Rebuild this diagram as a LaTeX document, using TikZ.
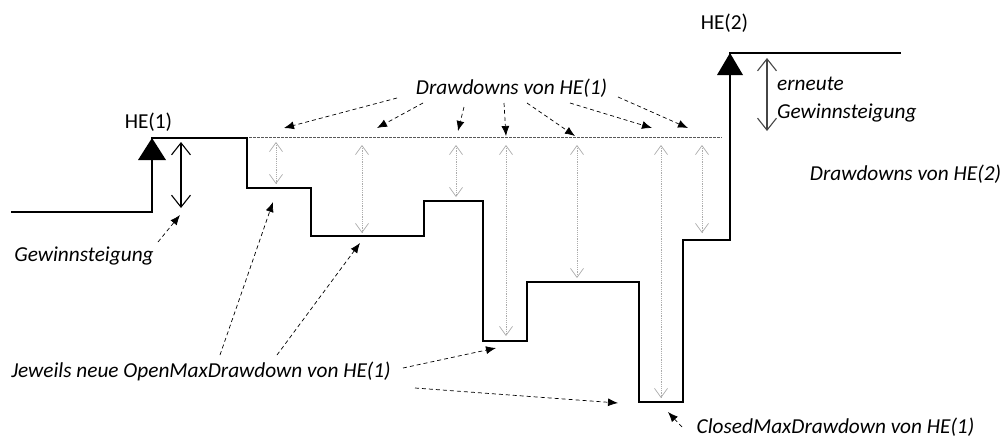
\documentclass[tikz,border=0pt]{standalone}
\usepackage{fontspec}
\setmainfont{Carlito}
\usetikzlibrary{arrows.meta}
\begin{document}
\begin{tikzpicture}[x=1pt,y=-1pt,
  curve/.style={line width=2.8pt, line join=miter},
  peak/.style={fill=black},
  level/.style={dash pattern=on 2.5pt off 1.5pt, line width=0.7pt, draw=gray!70!black},
  ddarrow/.style={draw=gray!65, dash pattern=on 1.2pt off 1pt, line width=0.7pt,
    {Straight Barb[length=9pt,width=13pt,line width=0.7pt]}-{Straight Barb[length=9pt,width=13pt,line width=0.7pt]}},
  gainarrow/.style={line width=1.1pt,
    {Straight Barb[length=12pt,width=19pt]}-{Straight Barb[length=12pt,width=19pt]}},
  note/.style={dash pattern=on 4pt off 3pt, line width=0.7pt, -{Latex[length=10pt,width=8pt]}},
  lbl/.style={font=\fontsize{21.3}{25}\selectfont\itshape, inner sep=0pt, anchor=base},
  plain/.style={font=\fontsize{21.3}{25}\selectfont, inner sep=0pt, anchor=base}]
\useasboundingbox (0,0) rectangle (1002,437);

% equity curve
\draw[curve] (11,212) -- (152,212) -- (152,138) -- (247,138) -- (247,188)
  -- (311,188) -- (311,236) -- (424,236) -- (424,201) -- (483,201) -- (483,341)
  -- (527,341) -- (527,282) -- (639,282) -- (639,402) -- (683,402) -- (683,240)
  -- (730,240) -- (730,53) -- (901,53);
\fill[peak] (138,160) -- (152,138) -- (166,160) -- cycle;
\fill[peak] (717,75) -- (730,53) -- (743,75) -- cycle;

% level of HE(1)
\draw[level] (249,137) -- (722,137);

% drawdown depths
\draw[ddarrow] (276,142) -- (276,184);
\draw[ddarrow] (362,145) -- (362,233);
\draw[ddarrow] (456,145) -- (456,197);
\draw[ddarrow] (506,145) -- (506,336);
\draw[ddarrow] (577,145) -- (577,278);
\draw[ddarrow] (661,145) -- (661,398);
\draw[ddarrow] (702,145) -- (702,233);

% gains
\draw[gainarrow] (181,142) -- (181,208);
\draw[gainarrow, draw=gray!55!black] (767,58) -- (767,131);

% labels
\node[plain] (he1) at (148.5,128.5) {HE(1)};
\node[plain] (he2) at (724.5,29) {HE(2)};
\node[lbl] (ddhe1) at (511.5,94) {Drawdowns von HE(1)};
\node[lbl, anchor=base west] (erneut) at (777,90) {erneute};
\node[lbl, anchor=base west] (gain2) at (777,118.5) {Gewinnsteigung};
\node[lbl] (ddhe2) at (905.5,180.5) {Drawdowns von HE(2)};
\node[lbl] (gain1) at (84,261) {Gewinnsteigung};
\node[lbl] (openmdd) at (201,377.5) {Jeweils neue OpenMaxDrawdown von HE(1)};
\node[lbl] (closedmdd) at (835.5,433) {ClosedMaxDrawdown von HE(1)};

% pointer ends
\coordinate (s1) at (397,98);   \coordinate (t1) at (284,128);
\coordinate (s2) at (423,103);  \coordinate (t2) at (377,128);
\coordinate (s3) at (464,107);  \coordinate (t3) at (458,131);
\coordinate (s4) at (504,103);  \coordinate (t4) at (506,136);
\coordinate (s5) at (527,103);  \coordinate (t5) at (575,136);
\coordinate (s6) at (570,103);  \coordinate (t6) at (652,128);
\coordinate (s7) at (618,97);   \coordinate (t7) at (688,128);
\foreach \i in {1,...,7} \draw[note] (s\i) -- (t\i);

\coordinate (g1) at (158,242);  \coordinate (tg1) at (180,215);
\draw[note] (g1) -- (tg1);

\coordinate (o1) at (220,355);  \coordinate (to1) at (273,202);
\coordinate (o2) at (277,355);  \coordinate (to2) at (360,243);
\coordinate (o3) at (403,368);  \coordinate (to3) at (496,348);
\coordinate (o4) at (415,388);  \coordinate (to4) at (618,403);
\foreach \i in {1,...,4} \draw[note] (o\i) -- (to\i);

\coordinate (c1) at (682,427);  \coordinate (tc1) at (668,412);
\draw[note] (c1) -- (tc1);
\end{tikzpicture}
\end{document}
